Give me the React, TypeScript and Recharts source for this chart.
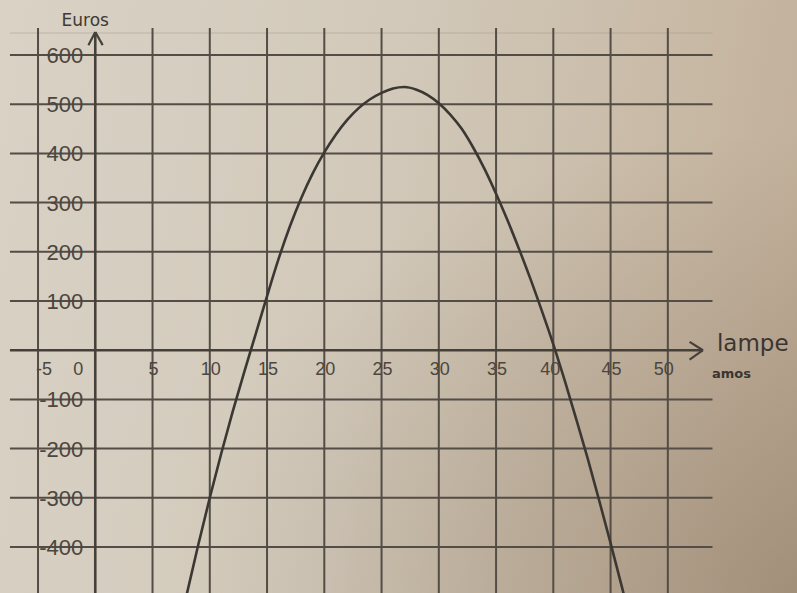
import React from 'react';
import { ComposedChart, Line, XAxis, YAxis, ReferenceLine, ReferenceDot } from 'recharts';

// number of lamps (x) and profit in euros (y)
const lampCounts = [8, 9, 10, 11, 12, 13, 14, 15, 16, 17, 18, 19, 20, 21, 22, 23, 24, 25, 26, 27, 28, 29, 30, 31, 32, 33, 34, 35, 36, 37, 38, 39, 40, 41, 42, 43, 44, 45, 46, 47];
const euroValues = [-495, -395, -300, -210, -125, -45, 32, 110, 185, 252, 310, 360, 402, 438, 468, 492, 510, 523, 532, 535, 530, 519, 502, 479, 450, 412, 368, 318, 264, 206, 145, 80, 12, -62, -140, -220, -305, -392, -482, -575];

const xTicks = [-5, 0, 5, 10, 15, 20, 25, 30, 35, 40, 45, 50];
const yTicks = [600, 500, 400, 300, 200, 100, -100, -200, -300, -400];
const xTickLabels = ['-5', '0', '5', '10', '15', '20', '25', '30', '35', '40', '45', '50'];
const yTickLabels = ['600', '500', '400', '300', '200', '100', '-100', '-200', '-300', '-400'];
const yAxisTitle = 'Euros';
const xAxisTitle = 'lampe';
const xAxisNote = 'amos';

const X_DOMAIN: [number, number] = [-8.32, 61.28];
const Y_DOMAIN: [number, number] = [-493.5, 711.8];
const GRID_X_START = -7.45;
const GRID_X_END = 53.9;
const GRID_Y_TOP = 655;
const AXIS_X_TIP = 53.07;
const AXIS_Y_TIP = 646.7;

const data = lampCounts.map((x, i) => ({ x, y: euroValues[i] }));

const GRID = '#534d46';
const AXIS = '#45403a';
const TEXT = '#4b4640';
const FONT = '"Liberation Sans", Arial, sans-serif';
const HAND = '"DejaVu Sans", sans-serif';

const xLabelShift: Record<string, number> = { '-5': 6, '0': -17, '40': -3, '50': -4 };

export default function App() {
  return (
    <div
      style={{
        position: 'absolute',
        left: 0,
        top: 0,
        width: 797,
        height: 593,
        overflow: 'hidden',
        background:
          'radial-gradient(ellipse at 100% 100%, rgba(110,90,70,0.35) 0%, rgba(110,90,70,0) 55%), linear-gradient(100deg, #d9d2c5 0%, #d2c9ba 45%, #c8b9a5 78%, #bfac96 100%)',
      }}
    >
      <ComposedChart width={797} height={593} data={data} margin={{ top: 0, right: 0, bottom: 0, left: 0 }}>
        <XAxis type="number" dataKey="x" domain={X_DOMAIN} hide allowDataOverflow />
        <YAxis type="number" domain={Y_DOMAIN} hide allowDataOverflow />

        {/* faint top line */}
        <ReferenceLine
          ifOverflow="visible"
          segment={[{ x: GRID_X_START, y: 644.7 }, { x: GRID_X_END, y: 644.7 }]}
          stroke="#9c9384"
          strokeOpacity={0.45}
          strokeWidth={1}
        />

        {/* horizontal grid */}
        {yTicks.map((v) => (
          <ReferenceLine
            key={'h' + v}
            ifOverflow="visible"
            segment={[{ x: GRID_X_START, y: v }, { x: GRID_X_END, y: v }]}
            stroke={GRID}
            strokeWidth={2}
          />
        ))}

        {/* vertical grid */}
        {xTicks.filter((v) => v !== 0).map((v) => (
          <ReferenceLine
            key={'v' + v}
            ifOverflow="visible"
            segment={[{ x: v, y: Y_DOMAIN[0] }, { x: v, y: GRID_Y_TOP }]}
            stroke={GRID}
            strokeWidth={2}
          />
        ))}

        {/* x axis with arrow */}
        <ReferenceLine ifOverflow="visible" segment={[{ x: GRID_X_START, y: 0 }, { x: AXIS_X_TIP, y: 0 }]} stroke={AXIS} strokeWidth={2.6} />
        <ReferenceLine ifOverflow="visible" segment={[{ x: 51.9, y: 17 }, { x: AXIS_X_TIP, y: 0 }]} stroke={AXIS} strokeWidth={2.2} />
        <ReferenceLine ifOverflow="visible" segment={[{ x: 51.9, y: -19 }, { x: AXIS_X_TIP, y: 0 }]} stroke={AXIS} strokeWidth={2.2} />

        {/* y axis with arrow */}
        <ReferenceLine ifOverflow="visible" segment={[{ x: 0, y: Y_DOMAIN[0] }, { x: 0, y: AXIS_Y_TIP }]} stroke={AXIS} strokeWidth={2.6} />
        <ReferenceLine ifOverflow="visible" segment={[{ x: -0.6, y: 620 }, { x: 0, y: AXIS_Y_TIP }]} stroke={AXIS} strokeWidth={2.2} />
        <ReferenceLine ifOverflow="visible" segment={[{ x: 0.65, y: 620 }, { x: 0, y: AXIS_Y_TIP }]} stroke={AXIS} strokeWidth={2.2} />

        {/* y tick labels */}
        {yTicks.map((v, i) => (
          <ReferenceDot
            key={'yl' + v}
            x={0}
            y={v}
            r={0}
            ifOverflow="visible"
            shape={(p: any) => (
              <text x={p.cx - 12} y={p.cy + 8} textAnchor="end" fontSize={22} fontFamily={FONT} fill={TEXT}>
                {yTickLabels[i]}
              </text>
            )}
          />
        ))}

        {/* x tick labels */}
        {xTicks.map((v, i) => (
          <ReferenceDot
            key={'xl' + v}
            x={v}
            y={0}
            r={0}
            ifOverflow="visible"
            shape={(p: any) => (
              <text
                x={p.cx + (xLabelShift[String(v)] ?? 1)}
                y={p.cy + 25}
                textAnchor="middle"
                fontSize={18}
                fontFamily={FONT}
                fill={TEXT}
              >
                {xTickLabels[i]}
              </text>
            )}
          />
        ))}

        {/* axis titles */}
        <ReferenceDot
          x={0}
          y={AXIS_Y_TIP}
          r={0}
          ifOverflow="visible"
          shape={(p: any) => (
            <text x={p.cx - 10} y={p.cy - 6} textAnchor="middle" fontSize={17} fontFamily={HAND} fill="#3f3a35">
              {yAxisTitle}
            </text>
          )}
        />
        <ReferenceDot
          x={AXIS_X_TIP}
          y={0}
          r={0}
          ifOverflow="visible"
          shape={(p: any) => (
            <g>
              <text x={p.cx + 14} y={p.cy + 1} textAnchor="start" fontSize={23} fontFamily={HAND} fill="#3a3531">
                {xAxisTitle}
              </text>
              <text x={p.cx + 9} y={p.cy + 28} textAnchor="start" fontSize={13} fontWeight="bold" fontFamily={HAND} fill="#3a3531">
                {xAxisNote}
              </text>
            </g>
          )}
        />

        <Line
          type="monotone"
          dataKey="y"
          stroke="#3b3733"
          strokeWidth={2.6}
          dot={false}
          activeDot={false}
          isAnimationActive={false}
        />
      </ComposedChart>
    </div>
  );
}
